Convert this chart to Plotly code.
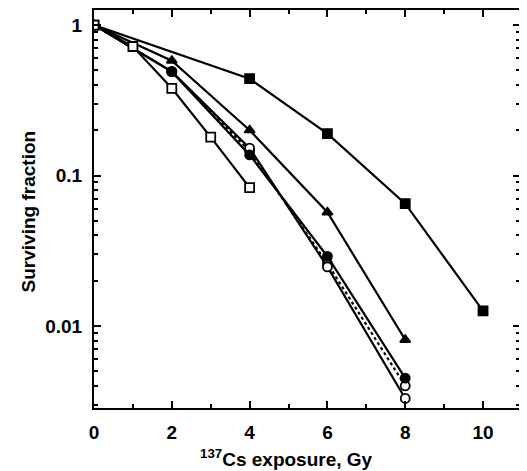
import plotly.graph_objects as go

# Data
dose_open_sq = [0, 1, 2, 3, 4]
surv_open_sq = [1.0, 0.72, 0.38, 0.18, 0.083]

dose_filled_sq = [0, 4, 6, 8, 10]
surv_filled_sq = [1.0, 0.44, 0.19, 0.065, 0.0126]

dose_tri = [0, 2, 4, 6, 8]
surv_tri = [1.0, 0.58, 0.20, 0.057, 0.0081]

dose_filled_circ = [0, 2, 4, 6, 8]
surv_filled_circ = [1.0, 0.49, 0.137, 0.029, 0.0045]

dose_open_circ = [0, 2, 4, 6, 8]
surv_open_circ = [1.0, 0.49, 0.152, 0.0247, 0.0033]

dose_dotted = [0, 2, 4, 6, 8]
surv_dotted = [1.0, 0.49, 0.145, 0.026, 0.0040]

x_tickvals = [0, 2, 4, 6, 8, 10]
x_minor_vals = [1, 3, 5, 7, 9]
y_tickvals = [0.01, 0.1, 1]
y_ticktext = ["0.01", "0.1", "1"]
y_minor_vals = [m * 10 ** e for e in (-3, -2, -1) for m in range(2, 10)]

x_title = "<sup>137</sup>Cs exposure, Gy"
y_title = "Surviving fraction"

fig = go.Figure()

def add(x, y, symbol, dash="solid", fill=True):
    fig.add_trace(go.Scatter(
        x=x, y=y, mode="lines+markers",
        line=dict(color="black", width=2.2, dash=dash),
        marker=dict(symbol=symbol, size=9,
                    color="black" if fill else "white",
                    line=dict(color="black", width=1.8)),
        showlegend=False))

add(dose_dotted, surv_dotted, "circle", dash="dot", fill=False)
add(dose_open_circ, surv_open_circ, "circle", fill=False)
add(dose_filled_circ, surv_filled_circ, "circle", fill=True)
add(dose_tri, surv_tri, "triangle-up", fill=True)
add(dose_filled_sq, surv_filled_sq, "square", fill=True)
add(dose_open_sq, surv_open_sq, "square", fill=False)

font = "Liberation Sans, Arial, sans-serif"

fig.update_xaxes(
    range=[0, 10.95], tickvals=x_tickvals, ticks="inside", ticklen=7,
    tickwidth=1.5, tickcolor="black", showline=True, linecolor="black",
    linewidth=2, mirror="ticks", showgrid=False, zeroline=False,
    automargin=False, ticklabelstandoff=6,
    tickfont=dict(family=font, size=19, color="black", weight="bold"),
    minor=dict(tickvals=x_minor_vals, ticks="inside", ticklen=4,
               tickcolor="black", tickwidth=1.5, showgrid=False),
)
fig.update_yaxes(
    type="log", range=[-2.545, 0.1], tickvals=y_tickvals, ticktext=y_ticktext,
    ticks="inside", ticklen=7, tickwidth=1.5, tickcolor="black",
    showline=True, linecolor="black", linewidth=2, mirror="ticks",
    showgrid=False, zeroline=False, automargin=False, ticklabelstandoff=6,
    tickfont=dict(family=font, size=19, color="black", weight="bold"),
    minor=dict(tickvals=y_minor_vals, ticks="inside", ticklen=4,
               tickcolor="black", tickwidth=1.5, showgrid=False),
)

fig.add_annotation(text=x_title, xref="paper", yref="paper",
                   x=0.452, y=-0.126, xanchor="center", yanchor="middle",
                   showarrow=False,
                   font=dict(family=font, size=19, color="black",
                             weight="bold"))
fig.add_annotation(text=y_title, xref="paper", yref="paper",
                   x=-0.1516, y=0.495, xanchor="center", yanchor="middle",
                   textangle=-90, showarrow=False,
                   font=dict(family=font, size=19, color="black",
                             weight="bold"))

# page body has an 8px default margin; compensate so the plot area
# lands where the reference has it
fig.update_layout(
    width=519, height=463,
    margin=dict(l=86, r=7, t=2, b=63),
    plot_bgcolor="white", paper_bgcolor="white",
)

fig.write_html("out.html")
